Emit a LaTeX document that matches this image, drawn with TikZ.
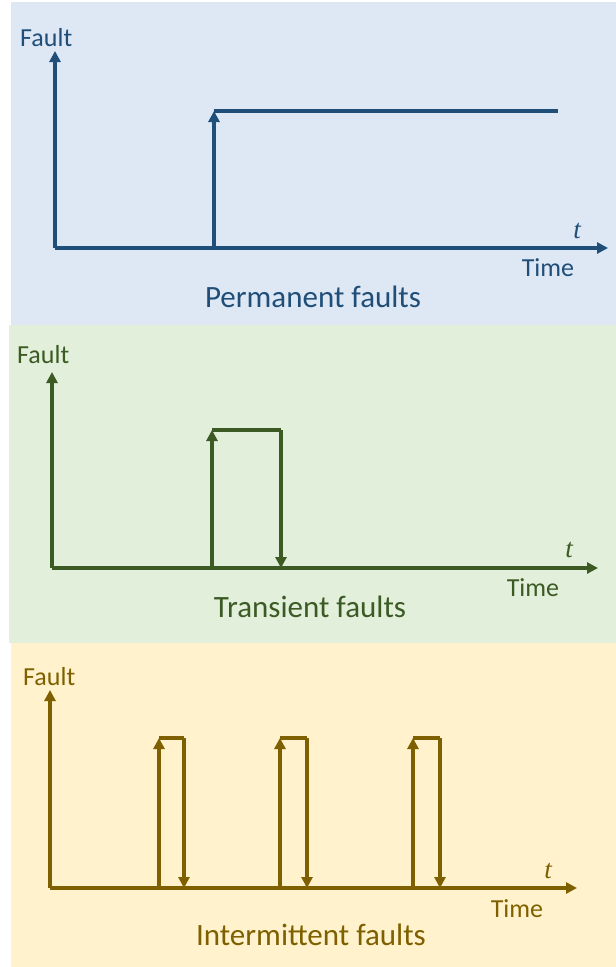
\documentclass[tikz,border=0pt]{standalone}
\usepackage{fontspec}
\setmainfont{Carlito}
\newfontfamily\tfont{Liberation Serif}
\usetikzlibrary{arrows.meta}
\definecolor{bgblue}{HTML}{DEE8F4}
\definecolor{bggreen}{HTML}{E2EFDA}
\definecolor{bgyellow}{HTML}{FFF2CC}
\definecolor{lnblue}{HTML}{1F4E79}
\definecolor{lngreen}{HTML}{3B5A24}
\definecolor{lnyellow}{HTML}{7F6000}
\tikzset{
  sig/.style={line width=3.5pt, -{Triangle[length=11pt,width=11pt]}},
  flat/.style={line width=3.5pt},
  axlabel/.style={font=\fontsize{26}{30}\selectfont, anchor=base west, inner sep=0pt},
  timelabel/.style={font=\fontsize{26}{30}\selectfont, anchor=base, inner sep=0pt},
  tlabel/.style={font=\tfont\itshape\fontsize{27}{30}\selectfont, anchor=base, inner sep=0pt},
  caption/.style={font=\fontsize{31}{36}\selectfont, anchor=base, inner sep=0pt}
}

\begin{document}
\begin{tikzpicture}[x=1pt, y=-1pt]
  \useasboundingbox (0,0) rectangle (616,967);
  % backgrounds
  \fill[bgblue] (11,2) rectangle (616,325);
  \fill[bggreen] (9,325) rectangle (616,643);
  \fill[bgyellow] (11,643) rectangle (616,967);

  % permanent
  \begin{scope}[color=lnblue]
    \coordinate (po) at (55,248);
    \coordinate (py) at (55,51);
    \coordinate (px) at (608,248);
    \coordinate (pa) at (214,248);
    \coordinate (pb) at (214,111);
    \coordinate (pc) at (558,111);
    \draw[sig] (po) -- (py);
    \draw[sig] (po) -- (px);
    \draw[sig] (pa) -- (pb);
    \draw[flat] (pb) -- (pc);
    \node[axlabel] (pfault) at (20,46) {Fault};
    \node[tlabel] (pt) at (577,238) {t};
    \node[timelabel] (ptime) at (548,276) {Time};
    \node[caption] (pcap) at (313,307) {Permanent faults};
  \end{scope}

  % transient
  \begin{scope}[color=lngreen]
    \coordinate (to) at (52,568);
    \coordinate (ty) at (52,372);
    \coordinate (tx) at (598,568);
    \coordinate (ta) at (212,568);
    \coordinate (tb) at (212,430);
    \coordinate (tc) at (281,430);
    \coordinate (td) at (281,568);
    \draw[sig] (to) -- (ty);
    \draw[sig] (to) -- (tx);
    \draw[sig] (ta) -- (tb);
    \draw[flat] (tb) -- (tc);
    \draw[sig] (tc) -- (td);
    \node[axlabel] (tfault) at (17,363) {Fault};
    \node[tlabel] (tt) at (569,557) {t};
    \node[timelabel] (ttime) at (533,596) {Time};
    \node[caption] (tcap) at (310,617) {Transient faults};
  \end{scope}

  % intermittent
  \begin{scope}[color=lnyellow]
    \coordinate (io) at (50,888);
    \coordinate (iy) at (50,690);
    \coordinate (ix) at (577,888);
    \draw[sig] (io) -- (iy);
    \draw[sig] (io) -- (ix);
    \foreach \i/\u/\d in {1/159/184, 2/280/307, 3/413/440} {
      \coordinate (ia\i) at (\u,888);
      \coordinate (ib\i) at (\u,738);
      \coordinate (ic\i) at (\d,738);
      \coordinate (id\i) at (\d,888);
      \draw[sig] (ia\i) -- (ib\i);
      \draw[flat] (ib\i) -- (ic\i);
      \draw[sig] (ic\i) -- (id\i);
    }
    \node[axlabel] (ifault) at (23,685) {Fault};
    \node[tlabel] (it) at (548,878) {t};
    \node[timelabel] (itime) at (517,917) {Time};
    \node[caption] (icap) at (311,945) {Intermittent faults};
  \end{scope}
\end{tikzpicture}
\end{document}
